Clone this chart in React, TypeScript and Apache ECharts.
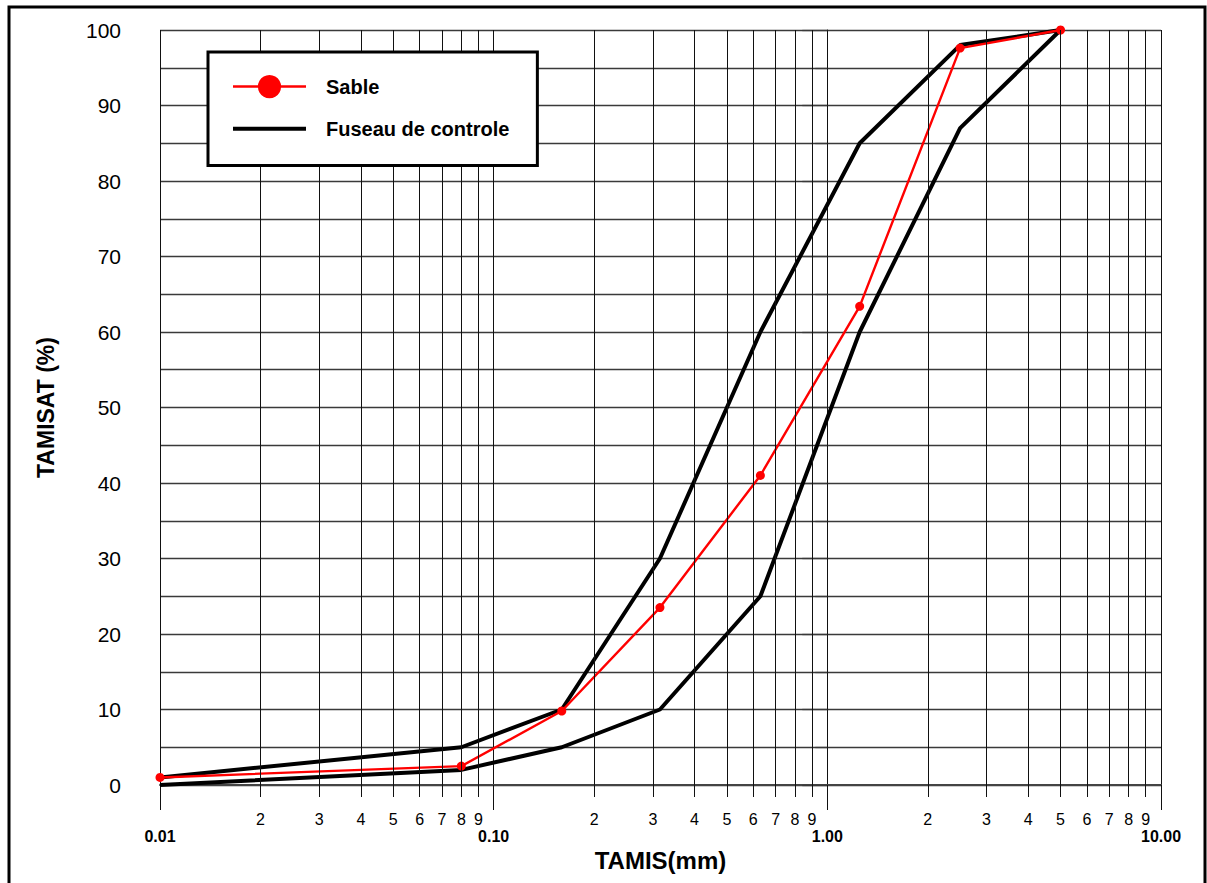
import React, { useEffect, useRef } from 'react';
import * as echarts from 'echarts';

// Sieve sizes (mm) and passing percentages
const sizes = [0.01, 0.08, 0.16, 0.315, 0.63, 1.25, 2.5, 5];
const sable = [1, 2.5, 9.8, 23.5, 41, 63.4, 97.6, 100];
const fuseauSup = [1, 5, 10, 30, 60, 85, 98, 100];
const fuseauInf = [0, 2, 5, 10, 25, 60, 87, 100];

// Axis ticks
const minorTicks = [
  0.02, 0.03, 0.04, 0.05, 0.06, 0.07, 0.08, 0.09,
  0.2, 0.3, 0.4, 0.5, 0.6, 0.7, 0.8, 0.9,
  2, 3, 4, 5, 6, 7, 8, 9,
];
const minorLabels = [
  '2', '3', '4', '5', '6', '7', '8', '9',
  '2', '3', '4', '5', '6', '7', '8', '9',
  '2', '3', '4', '5', '6', '7', '8', '9',
];

const FONT = '"Liberation Sans", Arial, sans-serif';
const VLINE = { color: '#111', width: 1 };
const HLINE = { color: '#3a3a3a', width: 1.3 };

export default function App() {
  const ref = useRef<HTMLDivElement>(null);
  useEffect(() => {
    const chart = echarts.init(ref.current!, null, { renderer: 'svg' });
    const minorLog = minorTicks.map((v) => Math.log10(v));
    const option: any = {
      animation: false,
      backgroundColor: '#fff',
      textStyle: { fontFamily: FONT },
      graphic: [
        {
          type: 'rect',
          shape: { x: 9, y: 7, width: 1196, height: 900 },
          style: { fill: 'none', stroke: '#000', lineWidth: 3 },
          silent: true,
          z: 100,
        },
      ],
      grid: { left: 160, right: 46, top: 30, bottom: 98, containLabel: false },
      legend: {
        left: 208,
        top: 52,
        orient: 'vertical',
        itemWidth: 73,
        itemHeight: 29,
        itemGap: 19,
        padding: [23, 28, 25, 23],
        borderColor: '#000',
        borderWidth: 3,
        backgroundColor: '#fff',
        selectedMode: false,
        textStyle: {
          fontFamily: FONT,
          fontWeight: 'bold',
          fontSize: 20,
          color: '#000',
          padding: [0, 0, 0, 15],
        },
        data: [
          { name: 'Sable', lineStyle: { width: 2.5, color: '#ff0000' } },
          {
            name: 'Fuseau de controle',
            lineStyle: { width: 4, color: '#000' },
            itemStyle: { opacity: 0 },
          },
        ],
        z: 10,
      },
      xAxis: [
        {
          type: 'log',
          logBase: 10,
          min: 0.01,
          max: 10,
          name: 'TAMIS(mm)',
          nameLocation: 'middle',
          nameGap: 61,
          nameTextStyle: { fontFamily: FONT, fontWeight: 'bold', fontSize: 24, color: '#000' },
          axisLine: { show: true, lineStyle: { color: '#444', width: 2 } },
          axisTick: { show: true, length: 25, lineStyle: VLINE },
          axisLabel: {
            margin: 43,
            fontFamily: FONT,
            fontWeight: 'bold',
            fontSize: 16,
            color: '#000',
            formatter: (v: number) => v.toFixed(2),
          },
          splitLine: { show: true, lineStyle: VLINE },
          minorTick: { show: false },
        },
        {
          type: 'value',
          min: -2,
          max: 1,
          position: 'bottom',
          axisLine: { show: false },
          axisTick: { show: true, length: 12, customValues: minorLog, lineStyle: VLINE },
          axisLabel: {
            show: true,
            customValues: minorLog,
            margin: 26,
            fontFamily: FONT,
            fontSize: 16,
            color: '#000',
            formatter: (v: number) => {
              let best = 0;
              let d = Infinity;
              minorLog.forEach((m, i) => {
                const dd = Math.abs(m - v);
                if (dd < d) { d = dd; best = i; }
              });
              return minorLabels[best];
            },
          },
          splitLine: { show: false },
        },
      ],
      yAxis: {
        type: 'value',
        min: 0,
        max: 100,
        interval: 10,
        name: 'TAMISAT (%)',
        nameLocation: 'middle',
        nameGap: 103,
        nameTextStyle: { fontFamily: FONT, fontWeight: 'bold', fontSize: 23, color: '#000' },
        axisLine: { show: true, lineStyle: { color: '#111', width: 1 } },
        axisTick: { show: true, length: 25, lineStyle: HLINE },
        minorTick: { show: true, splitNumber: 2, length: 12, lineStyle: HLINE },
        axisLabel: { margin: 39, fontFamily: FONT, fontSize: 21, color: '#000' },
        splitLine: { show: true, lineStyle: HLINE },
        minorSplitLine: { show: true, lineStyle: HLINE },
      },
      series: [
        {
          name: 'grid',
          type: 'line',
          xAxisIndex: 0,
          data: [],
          silent: true,
          markLine: {
            silent: true,
            symbol: ['none', 'none'],
            label: { show: false },
            lineStyle: { ...VLINE, type: 'solid' },
            emphasis: { disabled: true },
            data: minorTicks.map((v) => ({ xAxis: v })),
          },
        },
        {
          name: 'Fuseau de controle',
          type: 'line',
          xAxisIndex: 0,
          data: sizes.map((s, i) => [s, fuseauInf[i]]),
          symbol: 'none',
          lineStyle: { color: '#000', width: 4 },
          itemStyle: { color: '#000' },
          silent: true,
        },
        {
          name: 'Fuseau de controle',
          type: 'line',
          xAxisIndex: 0,
          data: sizes.map((s, i) => [s, fuseauSup[i]]),
          symbol: 'none',
          lineStyle: { color: '#000', width: 4 },
          itemStyle: { color: '#000' },
          silent: true,
        },
        {
          name: 'Sable',
          type: 'line',
          xAxisIndex: 0,
          data: sizes.map((s, i) => [s, sable[i]]),
          symbol: 'circle',
          symbolSize: 9,
          lineStyle: { color: '#ff0000', width: 2.4 },
          itemStyle: { color: '#ff0000' },
          silent: true,
        },
      ],
    };
    chart.setOption(option);
    return () => chart.dispose();
  }, []);
  return (
    <div
      ref={ref}
      style={{ position: 'absolute', left: 0, top: 0, width: 1207, height: 883 }}
    />
  );
}
